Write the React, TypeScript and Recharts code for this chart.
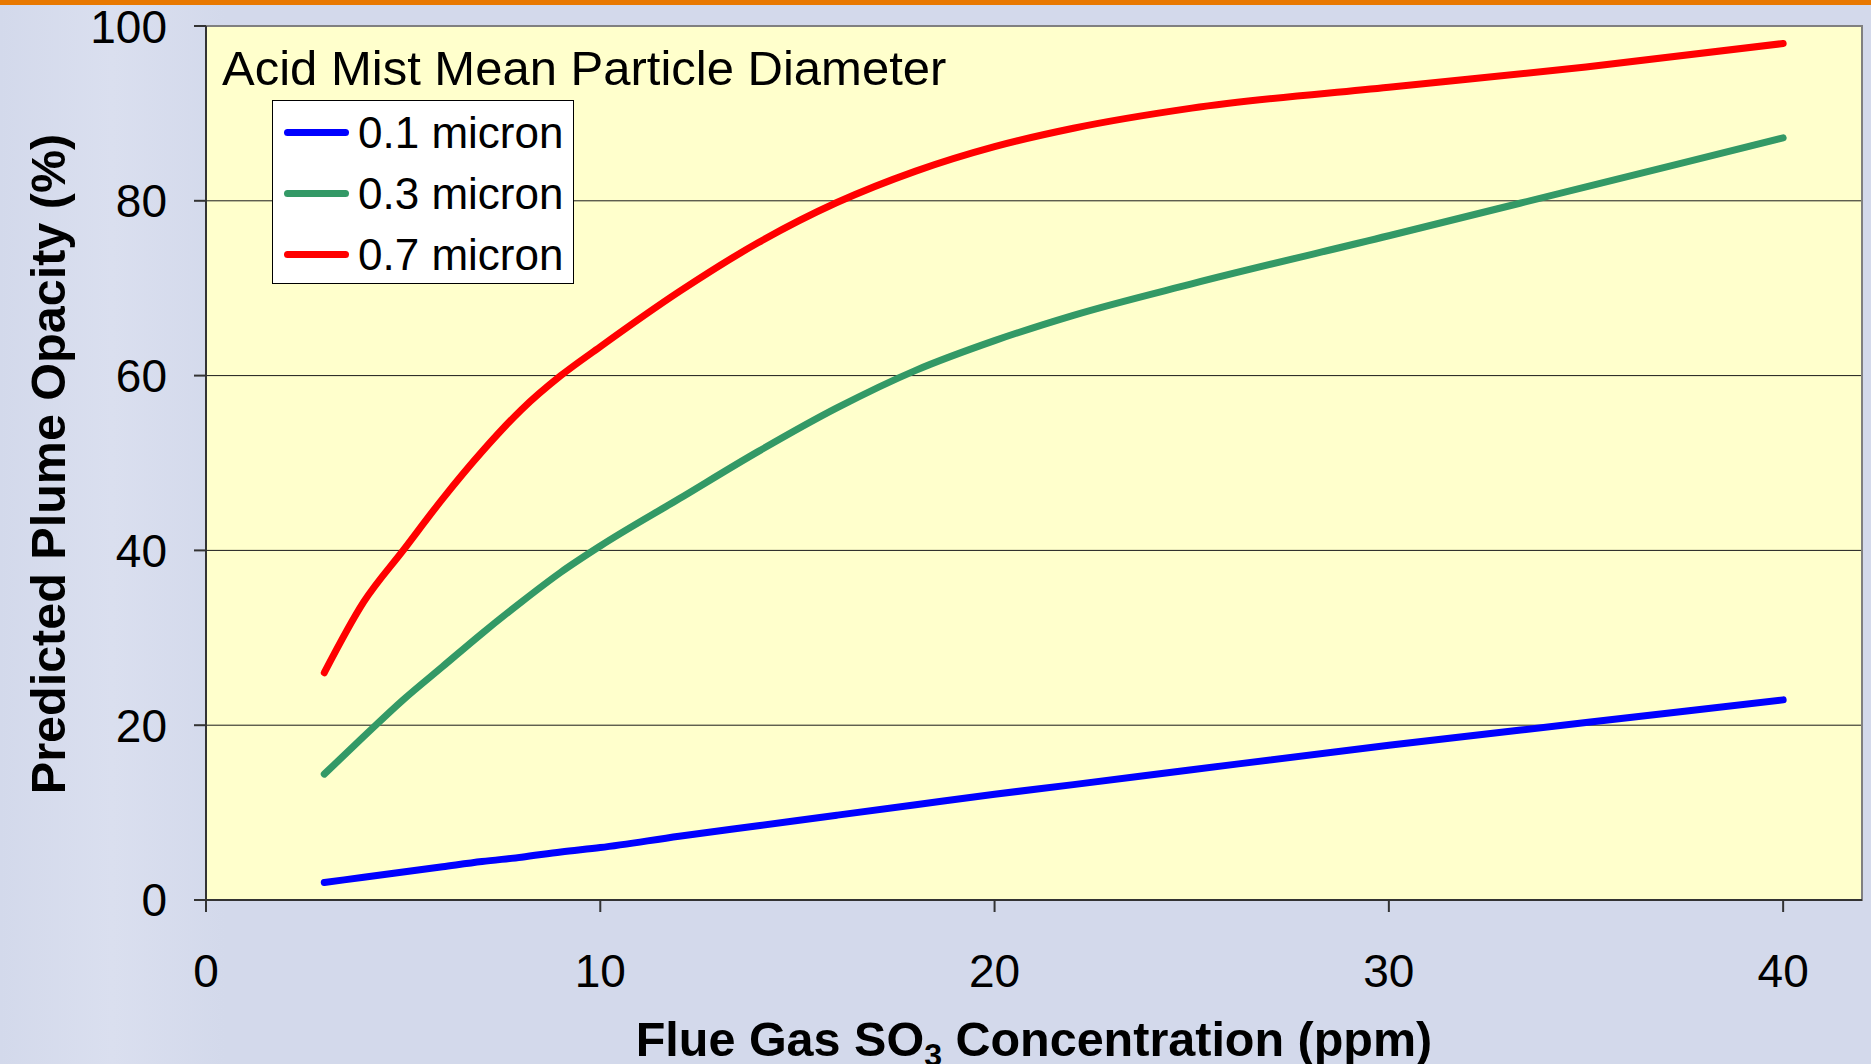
import {
  CartesianGrid,
  Label,
  Legend,
  Line,
  LineChart,
  ReferenceArea,
  XAxis,
  YAxis,
} from 'recharts'

const FONT = '"Liberation Sans", Arial, sans-serif'

const CONCENTRATION = [3, 4, 5, 6, 7, 8, 9, 10, 12, 14, 16, 18, 20, 22, 25, 30, 35, 40]
const MICRON_01 = [2.0, 2.6, 3.2, 3.8, 4.4, 4.9, 5.5, 6.0, 7.3, 8.5, 9.7, 10.9, 12.1, 13.2, 14.9, 17.7, 20.3, 22.9]
const MICRON_03 = [14.4, 18.7, 22.9, 26.7, 30.5, 34.1, 37.5, 40.5, 45.9, 51.3, 56.3, 60.6, 64.0, 66.9, 70.5, 76.0, 81.6, 87.2]
const MICRON_07 = [26.0, 34.1, 40.0, 45.9, 51.3, 56.1, 60.0, 63.3, 69.6, 75.2, 79.8, 83.4, 86.2, 88.3, 90.6, 93.0, 95.3, 98.0]

const X_TICKS = [0, 10, 20, 30, 40]
const Y_TICKS = [0, 20, 40, 60, 80, 100]

const SERIES = [
  { key: 'm01', name: '0.1 micron', color: '#0000FF' },
  { key: 'm03', name: '0.3 micron', color: '#339966' },
  { key: 'm07', name: '0.7 micron', color: '#FF0000' },
]

const data = CONCENTRATION.map((x, i) => ({
  x,
  m01: MICRON_01[i],
  m03: MICRON_03[i],
  m07: MICRON_07[i],
}))

function MistLegend({ payload }: any) {
  return (
    <div style={{ position: 'relative', fontFamily: FONT, color: '#000' }}>
      <div style={{ fontSize: 49, lineHeight: '56px', whiteSpace: 'nowrap' }}>
        Acid Mist Mean Particle Diameter
      </div>
      <div
        style={{
          position: 'absolute',
          left: 50,
          top: 60,
          width: 300,
          height: 181,
          background: '#fff',
          border: '1px solid #000',
          paddingTop: 1,
        }}
      >
        {(payload || []).map((p: any) => (
          <div key={p.value} style={{ display: 'flex', alignItems: 'center', height: 61 }}>
            <div
              style={{
                marginLeft: 11,
                width: 65,
                height: 7,
                borderRadius: 3.5,
                background: p.color,
              }}
            />
            <span style={{ marginLeft: 9, fontSize: 44, whiteSpace: 'nowrap' }}>{p.value}</span>
          </div>
        ))}
      </div>
    </div>
  )
}

function XTitle({ viewBox }: any) {
  const cx = viewBox.x + viewBox.width / 2
  return (
    <text
      x={cx}
      y={1056}
      textAnchor="middle"
      fontFamily={FONT}
      fontWeight="bold"
      fontSize={48.5}
      fill="#000"
    >
      Flue Gas SO
      <tspan fontSize={32} dy={10}>3</tspan>
      <tspan dy={-10}> Concentration (ppm)</tspan>
    </text>
  )
}

export default function App() {
  return (
    <div
      style={{
        position: 'absolute',
        left: 0,
        top: 0,
        width: 1871,
        height: 1064,
        overflow: 'hidden',
        background: 'linear-gradient(90deg, #D3D9EB 0%, #DADFEF 6%, #D3D9EB 12%, #D3D9EB 100%)',
      }}
    >
      <div style={{ position: 'absolute', left: 0, top: 0, width: 1871, height: 5, background: '#E87800' }} />
      <div
        style={{
          position: 'absolute',
          left: 48,
          top: 464,
          transform: 'translate(-50%, -50%) rotate(-90deg)',
          fontFamily: FONT,
          fontWeight: 'bold',
          fontSize: 48.5,
          whiteSpace: 'nowrap',
          color: '#000',
        }}
      >
        Predicted Plume Opacity (%)
      </div>
      <LineChart
        width={1871}
        height={1064}
        data={data}
        margin={{ top: 26, right: 9, bottom: 0, left: 0 }}
        style={{ position: 'absolute', left: 0, top: 0 }}
      >
        <CartesianGrid
          fill="#FFFFCC"
          stroke="#1a1a1a"
          strokeWidth={1}
          vertical={false}
          horizontalValues={[20, 40, 60, 80]}
        />
        <ReferenceArea x1={0} x2={42} y1={0} y2={100} fill="none" stroke="#808080" strokeWidth={2} ifOverflow="visible" />
        <XAxis
          type="number"
          dataKey="x"
          domain={[0, 42]}
          ticks={X_TICKS}
          allowDataOverflow
          height={164}
          stroke="#333"
          strokeWidth={2}
          tickSize={12}
          tickMargin={42}
          tick={{ fill: '#000', fontSize: 46, fontFamily: FONT }}
        >
          <Label content={XTitle} />
        </XAxis>
        <YAxis
          type="number"
          domain={[0, 100]}
          ticks={Y_TICKS}
          width={206}
          stroke="#333"
          strokeWidth={2}
          tickSize={12}
          tickMargin={27}
          tick={{ fill: '#000', fontSize: 46, fontFamily: FONT }}
        />
        <Legend
          layout="vertical"
          align="center"
          verticalAlign="middle"
          content={<MistLegend />}
          wrapperStyle={{ position: 'absolute', left: 222, top: 40, width: 760 }}
        />
        {SERIES.map((s) => (
          <Line
            key={s.key}
            type="monotone"
            dataKey={s.key}
            name={s.name}
            stroke={s.color}
            strokeWidth={7}
            strokeLinecap="round"
            dot={false}
            activeDot={false}
            isAnimationActive={false}
          />
        ))}
      </LineChart>
    </div>
  )
}
